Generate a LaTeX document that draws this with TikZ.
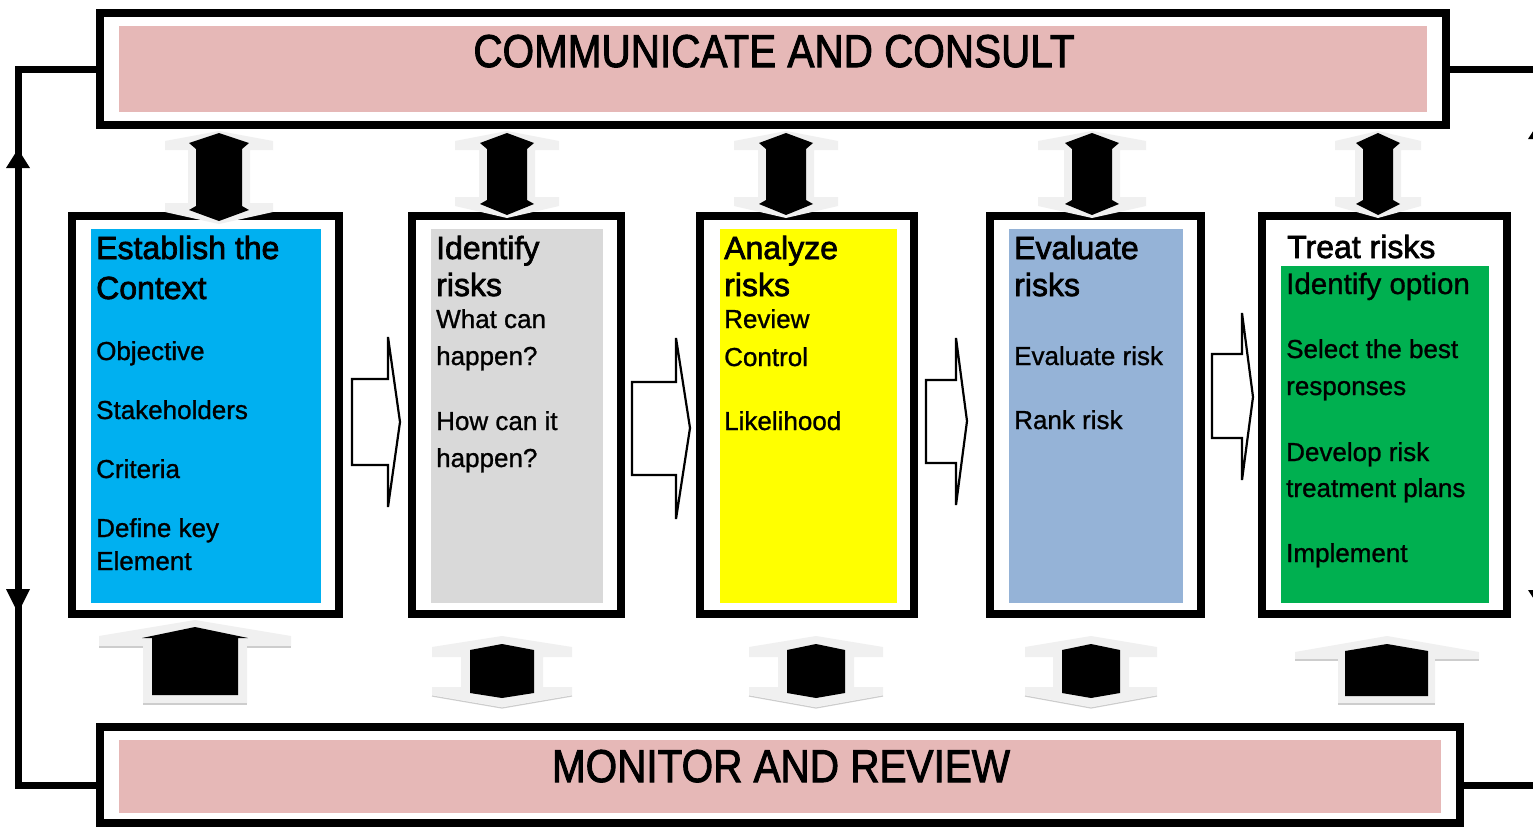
\documentclass[tikz,border=0pt]{standalone}
\usepackage{fontspec}
\setmainfont{Liberation Sans}
\newfontfamily\headfont{Liberation Sans}[FakeBold=2.2]
\newfontfamily\bodyfont{Liberation Sans}[FakeBold=1]
\definecolor{bandpink}{HTML}{E6B8B7}
\definecolor{skyfill}{HTML}{00B0F0}
\definecolor{greyfill}{HTML}{D9D9D9}
\definecolor{yellowfill}{HTML}{FFFF00}
\definecolor{steelfill}{HTML}{95B3D7}
\definecolor{greenfill}{HTML}{00B050}
\definecolor{haloc}{RGB}{240,240,240}
\definecolor{haloedge}{RGB}{205,205,205}

% double-headed vertical block arrow: centre x, black head half-width,
% grey head half-width, top y, bottom y
\newcommand\updownblock[5]{%
  \fill[haloc] (#1,#4) -- ({#1+#3},{#4+10}) -- ({#1+#3},{#4+19})
    -- ({#1+#2+1},{#4+19}) -- ({#1+#2+1},{#5-21}) -- ({#1+#3},{#5-21})
    -- ({#1+#3},{#5-12}) -- (#1,#5) -- ({#1-#3},{#5-12}) -- ({#1-#3},{#5-21})
    -- ({#1-#2-1},{#5-21}) -- ({#1-#2-1},{#4+19}) -- ({#1-#3},{#4+19})
    -- ({#1-#3},{#4+10}) -- cycle;
  \fill[black] (#1,{#4+2}) -- ({#1+#2},{#4+12}) -- ({#1+#2-7},{#4+18})
    -- ({#1+#2-7},{#5-18}) -- ({#1+#2},{#5-14}) -- (#1,{#5-3})
    -- ({#1-#2},{#5-14}) -- ({#1-#2+7},{#5-18}) -- ({#1-#2+7},{#4+18})
    -- ({#1-#2},{#4+12}) -- cycle;
}
% short double-headed block arrow below the steps: centre x, black half-width, grey half-width
\newcommand\hexblock[3]{%
  \fill[haloc] (#1,636) -- ({#1+#3},647) -- ({#1+#3},657) -- ({#1+#2+9},657)
    -- ({#1+#2+9},687) -- ({#1+#3},687) -- ({#1+#3},695) -- (#1,707)
    -- ({#1-#3},695) -- ({#1-#3},687) -- ({#1-#2-9},687) -- ({#1-#2-9},657)
    -- ({#1-#3},657) -- ({#1-#3},647) -- cycle;
  \draw[haloedge, line width=1.2pt] ({#1-#3},696) -- (#1,708) -- ({#1+#3},696);
  \fill[black] (#1,644) -- ({#1+#2},650) -- ({#1+#2},693) -- (#1,698)
    -- ({#1-#2},693) -- ({#1-#2},650) -- cycle;
}

\begin{document}
\begin{tikzpicture}[x=1pt,y=-1pt,
  boxframe/.style={draw=black, line width=8pt, inner sep=0pt, outer sep=0pt},
  band/.style={fill=bandpink, draw=none, inner sep=0pt},
  panelfill/.style={draw=none, inner sep=0pt},
  bigtitle/.style={anchor=base, inner sep=0pt, font=\headfont\fontsize{46}{46}\selectfont},
  hd/.style={anchor=base west, inner sep=0pt, font=\headfont\fontsize{32}{32}\selectfont},
  bd/.style={anchor=base west, inner sep=0pt, font=\bodyfont\fontsize{26}{26}\selectfont},
  hollow/.style={draw=black, line width=2.2pt, fill=white, line join=miter},
  cycleline/.style={draw=black, line width=7pt, line join=miter}
]
\clip (0,0) rectangle (1533,827);
\fill[white] (0,0) rectangle (1533,827);

% top band
\node[boxframe, minimum width=1346pt, minimum height=112pt] (cc) at (773,69) {};
\node[band, minimum width=1308pt, minimum height=86pt] (ccband) at (773,69) {};
\node[bigtitle] (cctext) at (774,67) {\scalebox{0.88}[1]{COMMUNICATE AND CONSULT}};

% bottom band
\node[boxframe, minimum width=1360pt, minimum height=96pt] (mr) at (780,775) {};
\node[band, minimum width=1322pt, minimum height=73pt] (mrband) at (780,776.5) {};
\node[bigtitle] (mrtext) at (781,782) {\scalebox{0.88}[1]{MONITOR AND REVIEW}};

% feedback loop on both sides
\coordinate (mrl) at (100,785);
\coordinate (mrr) at (1460,785);
\coordinate (lx) at (18,785);
\coordinate (rx) at (1539,785);
\draw[cycleline] (cc.west) -| (lx) -- (mrl);
\draw[cycleline] (cc.east) -| (rx) -- (mrr);
\fill (18,149) -- (6,168) -- (30,168) -- cycle;
\fill (18,613) -- (6,589) -- (30,589) -- cycle;
\fill (1539,122) -- (1528,139) -- (1550,139) -- cycle;
\fill (1539,607) -- (1528,590) -- (1550,590) -- cycle;

% process steps
\node[boxframe, minimum width=267pt, minimum height=398pt] (p1) at (205.5,415) {};
\node[panelfill, fill=skyfill, minimum width=230pt, minimum height=374pt] (p1f) at (206,416) {};
\node[boxframe, minimum width=209pt, minimum height=398pt] (p2) at (516.5,415) {};
\node[panelfill, fill=greyfill, minimum width=172pt, minimum height=374pt] (p2f) at (517,416) {};
\node[boxframe, minimum width=214pt, minimum height=398pt] (p3) at (807,415) {};
\node[panelfill, fill=yellowfill, minimum width=177pt, minimum height=374pt] (p3f) at (808.5,416) {};
\node[boxframe, minimum width=211pt, minimum height=398pt] (p4) at (1095.5,415) {};
\node[panelfill, fill=steelfill, minimum width=174pt, minimum height=374pt] (p4f) at (1096,416) {};
\node[boxframe, minimum width=245pt, minimum height=398pt] (p5) at (1384.5,415) {};
\node[panelfill, fill=greenfill, minimum width=208pt, minimum height=337pt] (p5f) at (1385,434.5) {};

% step texts
\node[hd] (t1a) at (96,259) {Establish the};
\node[hd] (t1b) at (96,299) {Context};
\node[bd] (t1c) at (96,360) {Objective};
\node[bd] (t1d) at (96,419) {Stakeholders};
\node[bd] (t1e) at (96,478) {Criteria};
\node[bd] (t1f) at (96,537) {Define key};
\node[bd] (t1g) at (96,570) {Element};

\node[hd] (t2a) at (436,259) {Identify};
\node[hd] (t2b) at (436,296) {risks};
\node[bd] (t2c) at (436,328) {What can};
\node[bd] (t2d) at (436,365) {happen?};
\node[bd] (t2e) at (436,430) {How can it};
\node[bd] (t2f) at (436,467) {happen?};

\node[hd] (t3a) at (724,259) {Analyze};
\node[hd] (t3b) at (724,296) {risks};
\node[bd] (t3c) at (724,328) {Review};
\node[bd] (t3d) at (724,366) {Control};
\node[bd] (t3e) at (724,430) {Likelihood};

\node[hd] (t4a) at (1014,259) {Evaluate};
\node[hd] (t4b) at (1014,296) {risks};
\node[bd] (t4c) at (1014,365) {Evaluate risk};
\node[bd] (t4d) at (1014,429) {Rank risk};

\node[hd] (t5a) at (1287,258) {Treat risks};
\node[bd, font=\bodyfont\fontsize{29.5}{29.5}\selectfont] (t5b) at (1286,294) {Identify option};
\node[bd] (t5c) at (1286,358) {Select the best};
\node[bd] (t5d) at (1286,395) {responses};
\node[bd] (t5e) at (1286,461) {Develop risk};
\node[bd] (t5f) at (1286,497) {treatment plans};
\node[bd] (t5g) at (1286,562) {Implement};

% hollow arrows between steps
\draw[hollow] (352,379) -- (388,379) -- (388,337) -- (400,422) -- (388,507) -- (388,465) -- (352,465) -- cycle;
\draw[hollow] (632,382) -- (676,382) -- (676,338) -- (690,428) -- (676,519) -- (676,475) -- (632,475) -- cycle;
\draw[hollow] (926,380) -- (956,380) -- (956,338) -- (967,421) -- (956,505) -- (956,463) -- (926,463) -- cycle;
\draw[hollow] (1212,354) -- (1242,354) -- (1242,313) -- (1253,397) -- (1242,480) -- (1242,438) -- (1212,438) -- cycle;

% links between the top band and the steps
\updownblock{219}{30}{54}{131}{224}
\updownblock{507}{27}{52}{131}{218}
\updownblock{786}{27}{52}{131}{218}
\updownblock{1092}{27}{54}{131}{218}
\updownblock{1378}{22}{43}{131}{218}

% links between the bottom band and the steps
\fill[haloc] (195,620) -- (291,636) -- (291,646) -- (247,646) -- (247,703)
  -- (143,703) -- (143,646) -- (99,646) -- (99,636) -- cycle;
\draw[haloedge, line width=1.2pt] (143,704) -- (247,704) (99,647) -- (143,647) (247,647) -- (291,647);
\fill[black] (195,627) -- (248,638) -- (238,638) -- (238,695) -- (152,695)
  -- (152,638) -- (142,638) -- cycle;

\hexblock{502}{32}{70}
\hexblock{816}{29}{67}
\hexblock{1091}{29}{66}

\fill[haloc] (1387,636) -- (1479,652) -- (1479,659) -- (1435,659) -- (1435,703)
  -- (1338,703) -- (1338,659) -- (1295,659) -- (1295,652) -- cycle;
\draw[haloedge, line width=1.2pt] (1338,704) -- (1435,704) (1295,660) -- (1338,660) (1435,660) -- (1479,660);
\fill[black] (1387,644) -- (1428,651) -- (1428,696) -- (1345,696) -- (1345,651) -- cycle;
\end{tikzpicture}
\end{document}
